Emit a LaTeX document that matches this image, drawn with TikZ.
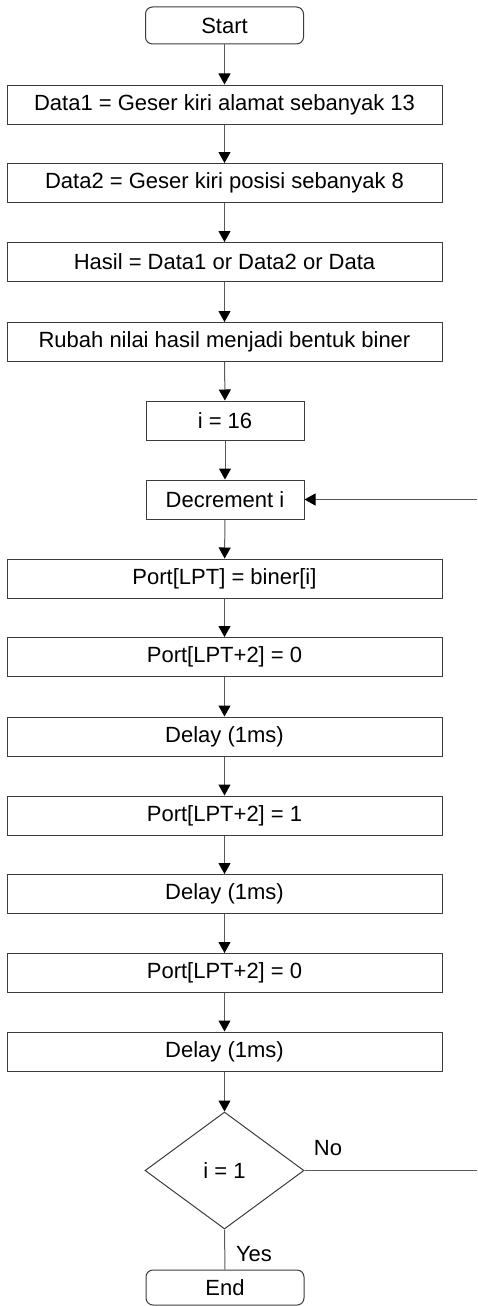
\documentclass[tikz,border=0pt]{standalone}
\usepackage{fontspec}
\setmainfont{Liberation Sans}
\usetikzlibrary{shapes.geometric,arrows.meta}
\definecolor{conn}{RGB}{90,90,90}
\definecolor{edge}{RGB}{60,60,60}
\tikzset{
  base/.style={draw=edge, line width=1pt, inner sep=0pt, font=\fontsize{22}{26}\selectfont, text=black},
  wide/.style={base, rectangle, minimum width=435pt, minimum height=39pt},
  narrow/.style={base, rectangle, minimum width=158pt, minimum height=39pt},
  term/.style={base, rectangle, rounded corners=7pt, minimum width=158pt, minimum height=37pt},
  dec/.style={base, diamond, minimum width=159pt, minimum height=117pt},
  link/.style={draw=conn, line width=1pt, -{Triangle[length=11pt,width=12pt,color=black]}},
  plain/.style={draw=conn, line width=1pt},
  lbl/.style={font=\fontsize{22}{26}\selectfont, inner sep=0pt}
}
\begin{document}
\begin{tikzpicture}[x=1pt,y=-1pt]
\useasboundingbox (0,0) rectangle (477,1306);
\node[term]   (start) at (224.5,25.5)  {Start};
\node[wide]   (b1)    at (224.5,104.5) {Data1 = Geser kiri alamat sebanyak 13};
\node[wide]   (b2)    at (224.5,183)   {Data2 = Geser kiri posisi sebanyak 8};
\node[wide]   (b3)    at (224.5,262)   {Hasil = Data1 or Data2 or Data};
\node[wide]   (b4)    at (224.5,342)   {Rubah nilai hasil menjadi bentuk biner};
\node[narrow] (i16)   at (225,420.5)   {i = 16};
\node[narrow] (decr)  at (225,499.5)   {Decrement i};
\node[wide]   (p1)    at (224.5,578.5) {Port[LPT] = biner[i]};
\node[wide]   (p2)    at (224.5,657)   {Port[LPT+2] = 0};
\node[wide]   (d1)    at (224.5,736.5) {Delay (1ms)};
\node[wide]   (p3)    at (224.5,815.5) {Port[LPT+2] = 1};
\node[wide]   (d2)    at (224.5,894)   {Delay (1ms)};
\node[wide]   (p4)    at (224.5,973)   {Port[LPT+2] = 0};
\node[wide]   (d3)    at (224.5,1051.5) {Delay (1ms)};
\node[dec]    (q)     at (224.5,1170.5) {i = 1};
\node[term, minimum height=35pt] (stop) at (225,1287.5) {End};
\coordinate (loopin) at (477,499.5);
\coordinate (loopout) at (477,1170.5);

\draw[link] (start) -- (b1);
\draw[link] (b1) -- (b2);
\draw[link] (b2) -- (b3);
\draw[link] (b3) -- (b4);
\draw[link] (b4) -- (i16);
\draw[link] (i16) -- (decr);
\draw[link] (decr) -- (p1);
\draw[link] (p1) -- (p2);
\draw[link] (p2) -- (d1);
\draw[link] (d1) -- (p3);
\draw[link] (p3) -- (d2);
\draw[link] (d2) -- (p4);
\draw[link] (p4) -- (d3);
\draw[link] (d3) -- (q);
\draw[plain] (q.south) -- (stop.north);
\draw[plain] (q.east) -- (loopout);
\draw[link] (loopin) -- (decr.east);
\node[lbl] (no) at (328,1148) {No};
\node[lbl] (yes) at (254,1254) {Yes};
\end{tikzpicture}
\end{document}
